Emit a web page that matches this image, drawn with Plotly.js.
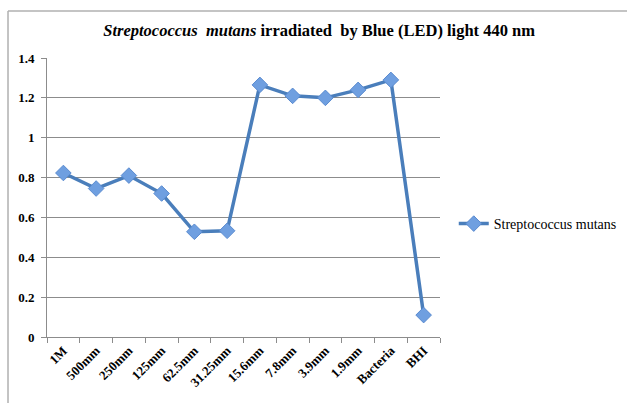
<!DOCTYPE html>
<html><head><meta charset="utf-8">
<script src="https://cdn.plot.ly/plotly-3.0.1.min.js"></script>
<style>html,body{margin:0;padding:0;background:#fff}#c{width:627px;height:403px}</style>
</head><body><div id="c"></div>
<script>
const categories = ["1M","500mm","250mm","125mm","62.5mm","31.25mm","15.6mm","7.8mm","3.9mm","1.9mm","Bacteria","BHI"];
const values = [0.823,0.745,0.81,0.72,0.528,0.533,1.265,1.21,1.2,1.24,1.29,0.11];
const yTicks = [0,0.2,0.4,0.6,0.8,1,1.2,1.4];
const yTickText = ["0","0.2","0.4","0.6","0.8","1","1.2","1.4"];
const seriesName = "Streptococcus mutans";

const trace = {
  x: categories, y: values, type: "scatter", mode: "lines+markers", name: seriesName,
  line: {color: "#4a7ebb", width: 3.5},
  marker: {symbol: "diamond", size: 12, color: "#6f9fe0", line: {color: "#5a8bd0", width: 1}}
};
const serif = "Liberation Serif, Times New Roman, serif";
const layout = {
  width: 627, height: 403,
  margin: {l: 47, r: 187, t: 58, b: 66, autoexpand: false},
  paper_bgcolor: "#fff", plot_bgcolor: "#fff",
  title: {text: "<i>Streptococcus  mutans</i> irradiated  by Blue (LED) light 440 nm",
    font: {family: serif, size: 16.5, color: "#000", weight: "bold"},
    x: 0.509, xref: "container", xanchor: "center", y: 0.925, yanchor: "middle"},
  xaxis: {type: "category", range: [-0.5, 11.5], tickangle: -45, automargin: false,
    tickfont: {family: serif, size: 13, color: "#000", weight: "bold"},
    showgrid: false, showline: true, linecolor: "#8c8c8c", linewidth: 1,
    ticks: "outside", tickson: "boundaries", ticklen: 5, tickcolor: "#8c8c8c", zeroline: false},
  yaxis: {range: [0, 1.4], tickvals: yTicks, ticktext: yTickText, automargin: false,
    tickfont: {family: serif, size: 13, color: "#000", weight: "bold"},
    showgrid: true, gridcolor: "#8c8c8c", gridwidth: 1, showline: true, linecolor: "#8c8c8c",
    ticks: "outside", ticklen: 5, tickcolor: "#8c8c8c", zeroline: false, ticklabelstandoff: 4},
  showlegend: true,
  legend: {x: 1.035, y: 0.405, xanchor: "left", yanchor: "middle", bgcolor: "rgba(0,0,0,0)",
    font: {family: serif, size: 14, color: "#000"}, itemwidth: 30},
  shapes: [
    {type: "line", xref: "paper", yref: "paper", x0: -0.0992, x1: 1.5, y0: 1.1685, y1: 1.1685, line: {color: "#b0b0b0", width: 1.5}},
    {type: "line", xref: "paper", yref: "paper", x0: -0.0992, x1: -0.0992, y0: 1.1685, y1: -0.3, line: {color: "#b0b0b0", width: 1.5}}
  ]
};
Plotly.newPlot("c", [trace], layout, {displayModeBar: false, staticPlot: true});
</script></body></html>
